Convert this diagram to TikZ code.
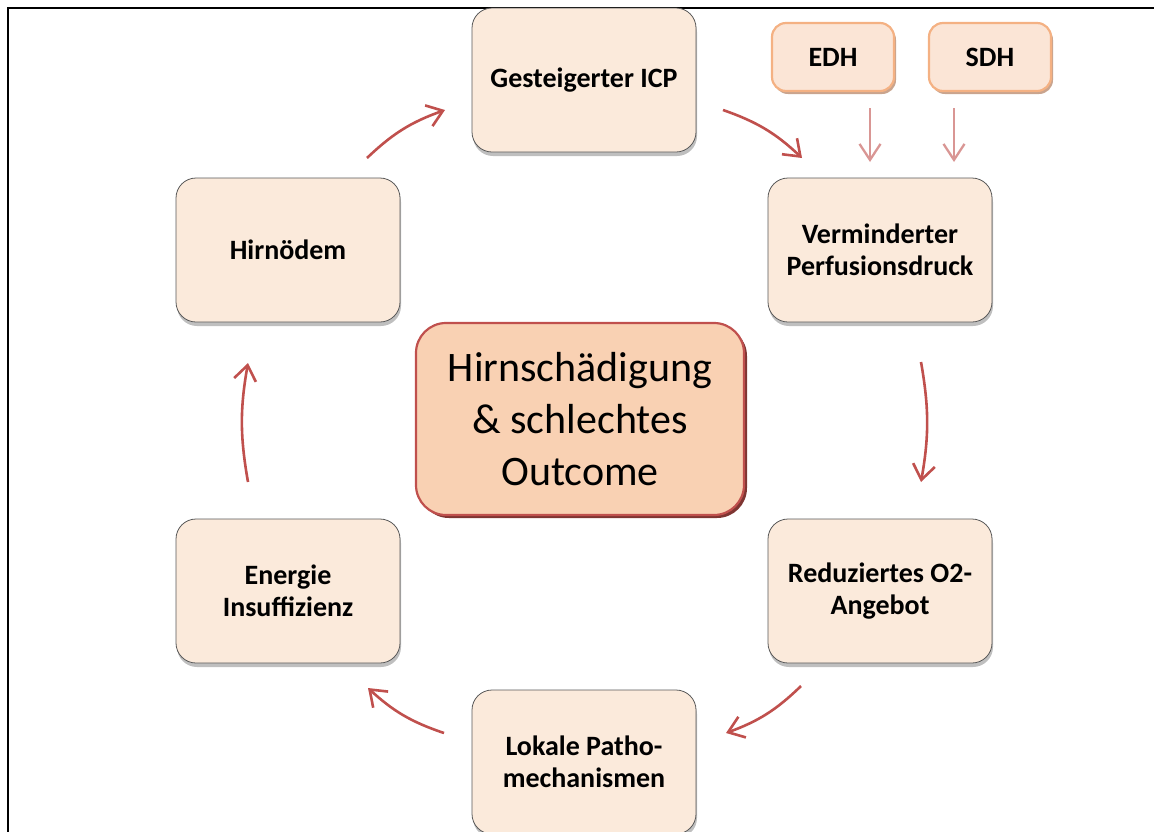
\documentclass[tikz,border=0pt]{standalone}
\usepackage{fontspec}
\setmainfont{Carlito}
\usetikzlibrary{arrows.meta,shadows}
\definecolor{boxfill}{HTML}{FBEADB}
\definecolor{boxline}{HTML}{595959}
\definecolor{centerfill}{HTML}{F9D1B3}
\definecolor{accent}{HTML}{C0504D}
\definecolor{accentdark}{HTML}{7E3532}
\definecolor{edhfill}{HTML}{FBE5D6}
\definecolor{edhline}{HTML}{F4B183}
\definecolor{edhshadow}{HTML}{C9A48E}
\definecolor{lightarrow}{HTML}{D99694}
\tikzset{
  cyclebox/.style={draw=boxline, line width=0.8pt, fill=boxfill, rounded corners=20pt,
    minimum width=224pt, minimum height=144pt, align=center, inner sep=0pt,
    font=\fontsize{28}{32}\selectfont\bfseries,
    drop shadow={shadow xshift=1pt, shadow yshift=-4pt, opacity=0.25, fill=black}},
  centerbox/.style={draw=accent, line width=2.2pt, fill=centerfill, rounded corners=30pt,
    minimum width=328pt, minimum height=192pt, align=center, inner sep=0pt,
    font=\fontsize{42}{52}\selectfont,
    drop shadow={shadow xshift=3pt, shadow yshift=-3pt, opacity=1, fill=accentdark}},
  causebox/.style={draw=edhline, line width=2.2pt, fill=edhfill, rounded corners=14pt,
    minimum width=122pt, minimum height=68pt, align=center, inner sep=0pt,
    font=\fontsize{28}{32}\selectfont\bfseries,
    drop shadow={shadow xshift=2pt, shadow yshift=-3pt, opacity=1, fill=edhshadow}},
  cyclearrow/.style={draw=accent, line width=2.6pt, -{Straight Barb[length=15pt,width=22pt]}},
  causearrow/.style={draw=lightarrow, line width=2.3pt, -{Straight Barb[length=16pt,width=21pt]}},
  frameline/.style={draw=black, line width=2.5pt}
}
\begin{document}
\begin{tikzpicture}[x=1pt,y=-1pt]
\useasboundingbox (0,0) rectangle (1154,831);
% frame
\coordinate (frbl) at (8,840);
\coordinate (frtl) at (8,8);
\coordinate (frtr) at (1160,8);
\draw[frameline] (frbl) -- (frtl) -- (frtr);
% nodes
\node[cyclebox] (icp) at (584,80) {Gesteigerter ICP};
\node[cyclebox] (hirn) at (288,250) {Hirnödem};
\node[cyclebox] (verm) at (880,250) {Verminderter\\Perfusionsdruck};
\node[cyclebox] (reduz) at (880,591) {Reduziertes O2-\\Angebot};
\node[cyclebox] (lokal) at (584,762) {Lokale Patho-\\mechanismen};
\node[cyclebox] (energie) at (288,591) {Energie\\Insuffizienz};
\node[centerbox] (center) at (580,419) {Hirnschädigung\\\&~schlechtes\\Outcome};
\node[causebox] (edh) at (833,57) {EDH};
\node[causebox] (sdh) at (990,57) {SDH};
% connector end points
\coordinate (a1s) at (367,158); \coordinate (a1e) at (445,110);
\coordinate (a2s) at (723,110); \coordinate (a2e) at (802,158);
\coordinate (a3s) at (921,362); \coordinate (a3e) at (921,482);
\coordinate (a4s) at (801,686); \coordinate (a4e) at (726,733);
\coordinate (a5s) at (444,733); \coordinate (a5e) at (368,688);
\coordinate (a6s) at (248,482); \coordinate (a6e) at (248,363);
\coordinate (e1s) at (870,108); \coordinate (e1e) at (870,162);
\coordinate (e2s) at (954,108); \coordinate (e2e) at (954,162);
% cycle arrows
\draw[cyclearrow] (a1s) to[bend left=12] (a1e);
\draw[cyclearrow] (a2s) to[bend left=12] (a2e);
\draw[cyclearrow] (a3s) to[bend left=10] (a3e);
\draw[cyclearrow] (a4s) to[bend left=12] (a4e);
\draw[cyclearrow] (a5s) to[bend left=12] (a5e);
\draw[cyclearrow] (a6s) to[bend left=10] (a6e);
% cause arrows
\draw[causearrow] (e1s) -- (e1e);
\draw[causearrow] (e2s) -- (e2e);
\end{tikzpicture}
\end{document}
